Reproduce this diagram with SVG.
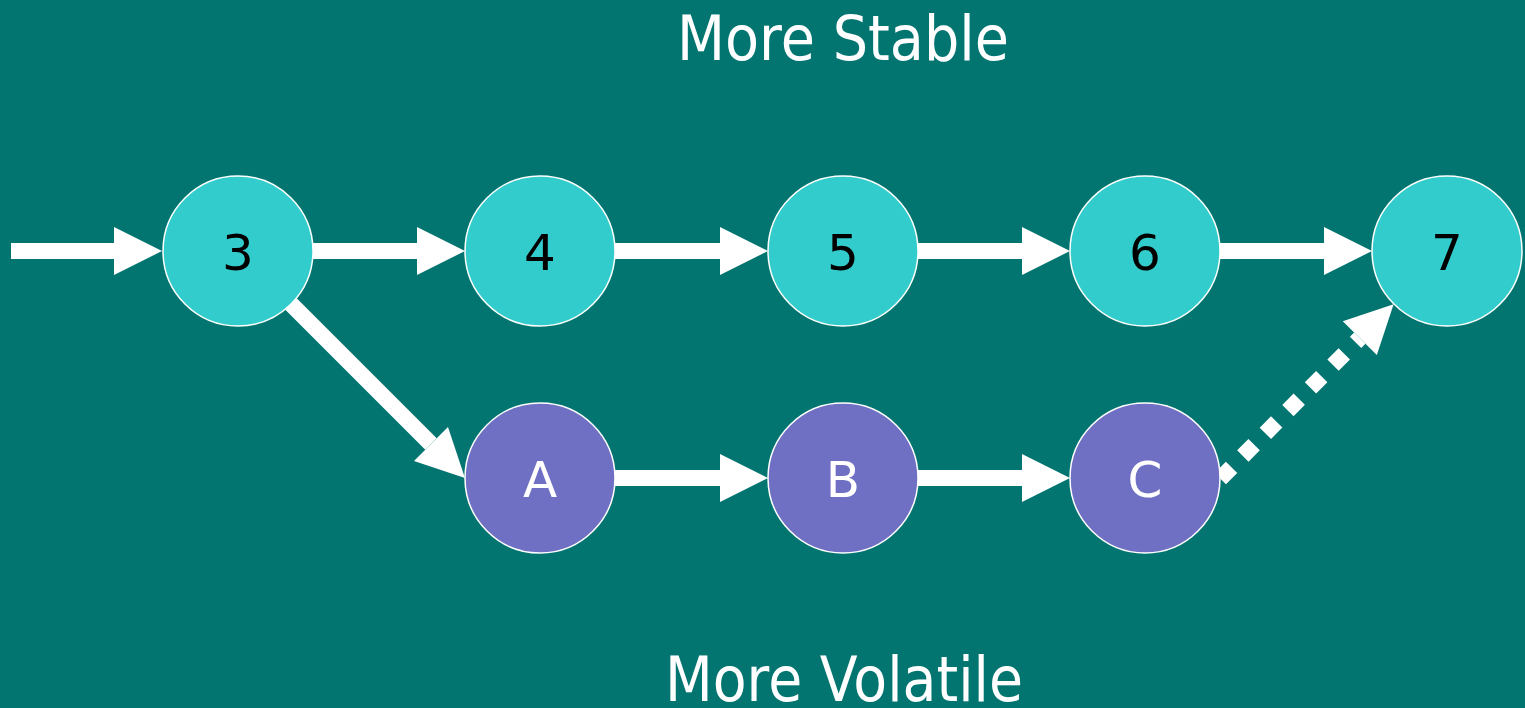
<svg xmlns="http://www.w3.org/2000/svg" width="1525" height="708" viewBox="0 0 1525 708">
<style>
.stable{fill:#33CCCC;stroke:#FFFFFF;stroke-width:1.5}
.vol{fill:#6F6FC4;stroke:#FFFFFF;stroke-width:1.5}
.lbl{font-family:"DejaVu Sans","Verdana",sans-serif;font-size:50px;text-anchor:middle}
.dark{fill:#000000}
.light{fill:#FFFFFF}
.title{font-family:"DejaVu Sans","Verdana",sans-serif;font-size:62px;fill:#FFFFFF;text-anchor:middle}
.edge{stroke:#FFFFFF;stroke-width:16;fill:none;marker-end:url(#ah)}
.dots{stroke-dasharray:16 16}
</style>
<defs>
<marker id="ah" viewBox="0 -24 48 48" refX="0" refY="0" markerWidth="48" markerHeight="48" markerUnits="userSpaceOnUse" orient="auto" overflow="visible">
<path d="M0,-24 L48,0 L0,24 Z" fill="#FFFFFF"/>
</marker>
</defs>
<rect x="0" y="0" width="1525" height="708" fill="#037570"/>
<text class="title" x="843" y="60" textLength="332" lengthAdjust="spacingAndGlyphs">More Stable</text>
<text class="title" x="844" y="701" textLength="358" lengthAdjust="spacingAndGlyphs">More Volatile</text>
<g id="connectors">
<line class="edge" x1="11" y1="251" x2="114" y2="251"/>
<line class="edge" x1="313" y1="251" x2="417" y2="251"/>
<line class="edge" x1="615" y1="251" x2="720" y2="251"/>
<line class="edge" x1="918" y1="251" x2="1022" y2="251"/>
<line class="edge" x1="1220" y1="251" x2="1324" y2="251"/>
<line class="edge" x1="290" y1="303" x2="431" y2="444"/>
<line class="edge" x1="615" y1="478" x2="720" y2="478"/>
<line class="edge" x1="918" y1="478" x2="1022" y2="478"/>
<line class="edge dots" x1="1220.3" y1="478.7" x2="1359.8" y2="338.2"/>
</g>
<g id="node-3"><circle class="stable" cx="238" cy="251" r="75"/><text class="lbl dark" x="238" y="270">3</text></g>
<g id="node-4"><circle class="stable" cx="540" cy="251" r="75"/><text class="lbl dark" x="540" y="270">4</text></g>
<g id="node-5"><circle class="stable" cx="843" cy="251" r="75"/><text class="lbl dark" x="843" y="270">5</text></g>
<g id="node-6"><circle class="stable" cx="1145" cy="251" r="75"/><text class="lbl dark" x="1145" y="270">6</text></g>
<g id="node-7"><circle class="stable" cx="1447" cy="251" r="75"/><text class="lbl dark" x="1447" y="270">7</text></g>
<g id="node-A"><circle class="vol" cx="540" cy="478" r="75"/><text class="lbl light" x="540" y="497">A</text></g>
<g id="node-B"><circle class="vol" cx="843" cy="478" r="75"/><text class="lbl light" x="843" y="497">B</text></g>
<g id="node-C"><circle class="vol" cx="1145" cy="478" r="75"/><text class="lbl light" x="1145" y="497">C</text></g>
</svg>
